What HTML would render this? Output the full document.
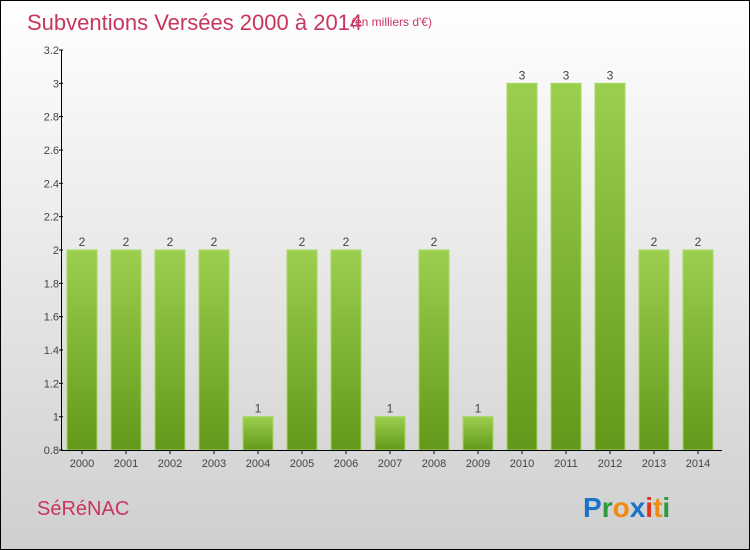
<!DOCTYPE html>
<html><head><meta charset="utf-8"><style>
body{margin:0}
#c{width:748px;height:548px;border:1px solid #000;position:relative;background:linear-gradient(#fff,#cfcfcf);font-family:"Liberation Sans",sans-serif;overflow:hidden}
</style></head><body>
<div id="c">
<svg width="748" height="548">
<defs><linearGradient id="g" x1="0" y1="0" x2="0" y2="1"><stop offset="0" stop-color="#9ccf4e"/><stop offset="1" stop-color="#63981a"/></linearGradient></defs>
<text x="26" y="29" font-size="22" fill="#c8355f">Subventions Versées 2000 à 2014</text>
<text x="350" y="25" font-size="12" fill="#c8355f">(en milliers d'€)</text>
<text x="36" y="514" font-size="20" fill="#c8355f">SéRéNAC</text>
<g font-size="28" font-weight="bold">
<text x="582" y="516"><tspan fill="#1a73c8">P</tspan><tspan fill="#2a9a3a">r</tspan><tspan fill="#f08a10">o</tspan><tspan fill="#1a73c8">x</tspan><tspan fill="#e03020">i</tspan><tspan fill="#f08a10">t</tspan><tspan fill="#2a9a3a">i</tspan></text></g>
<g id="plot"></g>
</svg></div>
<script>
const categories=["2000","2001","2002","2003","2004","2005","2006","2007","2008","2009","2010","2011","2012","2013","2014"];
const values=[2,2,2,2,1,2,2,1,2,1,3,3,3,2,2];
const yTicks=[0.8,1,1.2,1.4,1.6,1.8,2,2.2,2.4,2.6,2.8,3,3.2];
const yTickLabels=["0.8","1","1.2","1.4","1.6","1.8","2","2.2","2.4","2.6","2.8","3","3.2"];
const NS="http://www.w3.org/2000/svg",g=document.getElementById('plot');
const y=v=>449-(v-0.8)/2.4*400, x=i=>81+i*44;
function el(t,a,p){const e=document.createElementNS(NS,t);for(const k in a)e.setAttribute(k,a[k]);(p||g).appendChild(e);return e;}
categories.forEach((c,i)=>{
 const r=el('rect',{x:x(i)-15,y:y(values[i]),width:30,height:449-y(values[i]),fill:'url(#g)',stroke:'#a6d860','stroke-width':1});
 
 
 const t=el('text',{x:x(i),y:y(values[i])-4,'text-anchor':'middle','font-size':12,fill:'#444'});t.textContent=values[i];
 
 
 const l=el('text',{x:x(i),y:466,'text-anchor':'middle','font-size':11,fill:'#444'});l.textContent=c;
 
 
 el('line',{x1:x(i),x2:x(i),y1:449,y2:453,stroke:'#000'});
});
yTicks.forEach((v,i)=>{
 el('line',{x1:58,x2:62,y1:y(v),y2:y(v),stroke:'#000'});
 const t=el('text',{x:58,y:y(v)+4,'text-anchor':'end','font-size':11,fill:'#444'});t.textContent=yTickLabels[i];
 
 
});
const ya=el('line',{x1:60.5,x2:60.5,y1:49,y2:449,stroke:'#000'});


const xa=el('line',{x1:60,x2:721,y1:449.5,y2:449.5,stroke:'#000'});


</script>
</body></html>
